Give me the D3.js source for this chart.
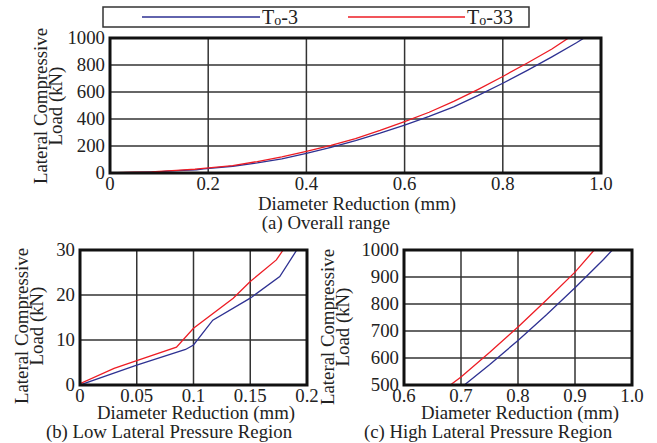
<!DOCTYPE html>
<html lang="en">
<head>
<meta charset="utf-8">
<script src="https://cdn.jsdelivr.net/npm/d3@7"></script>
<style>
  body { margin: 0; background: #fff; }
  svg text { font-family: "Liberation Serif", "Times New Roman", serif; fill: #222; }
</style>
</head>
<body>
<div id="chart"></div>
<script>
// series (diameter reduction mm, load kN)
var seriesNames = ["3", "33"];
var blueX = [0, 0.05, 0.093, 0.1, 0.117, 0.15, 0.176, 0.191, 0.25, 0.3, 0.35, 0.4, 0.45, 0.5, 0.55, 0.6, 0.65, 0.7, 0.75, 0.8, 0.85, 0.9, 0.95, 0.97];
var blueY = [0, 4.4, 7.9, 8.9, 14.4, 19.3, 24.1, 30, 50, 75, 105, 145, 190, 240, 295, 355, 420, 490, 575, 665, 760, 860, 965, 1010];
var redX = [0, 0.03, 0.05, 0.085, 0.1, 0.135, 0.15, 0.173, 0.179, 0.25, 0.3, 0.35, 0.4, 0.45, 0.5, 0.55, 0.6, 0.65, 0.7, 0.75, 0.8, 0.85, 0.9, 0.94];
var redY = [0.3, 3.7, 5.4, 8.4, 12.6, 19.3, 23, 27.8, 30, 55, 85, 120, 160, 205, 255, 315, 380, 450, 530, 620, 715, 815, 918, 1015];

// tick values for each panel
var ticksAX = [0, 0.2, 0.4, 0.6, 0.8, 1.0];
var ticksAY = [0, 200, 400, 600, 800, 1000];
var ticksBX = [0, 0.05, 0.1, 0.15, 0.2];
var ticksBY = [0, 10, 20, 30];
var ticksCX = [0.6, 0.7, 0.8, 0.9, 1.0];
var ticksCY = [500, 600, 700, 800, 900, 1000];

var blue = blueX.map((x, i) => [x, blueY[i]]);
var red = redX.map((x, i) => [x, redY[i]]);

var fs = "18.8px";
var svg = d3.select("#chart").append("svg").attr("width", 657).attr("height", 443);

// legend
var leg = svg.append("g");
leg.append("rect").attr("x", 103).attr("y", 7).attr("width", 426).attr("height", 20)
  .attr("fill", "none").attr("stroke", "#333").attr("stroke-width", 1.5);
function legendItem(x1, x2, color, name) {
  leg.append("line").attr("x1", x1).attr("x2", x2).attr("y1", 17).attr("y2", 17)
    .attr("stroke", color).attr("stroke-width", 1.5);
  var t = leg.append("text").attr("x", x2 + 2).attr("y", 24).style("font-size", "20px");
  t.append("tspan").text("T");
  t.append("tspan").text("o").style("font-size", "14px").attr("dy", 1);
  t.append("tspan").text("-" + name).attr("dy", -1);
}
legendItem(142, 260, "#2e3192", seriesNames[0]);
legendItem(348, 465, "#ed1c24", seriesNames[1]);

function panel(o) {
  var g = svg.append("g");
  var x = d3.scaleLinear().domain(o.xd).range([o.l, o.r]);
  var y = d3.scaleLinear().domain(o.yd).range([o.b, o.t]);
  var id = "clip" + o.key;
  svg.append("clipPath").attr("id", id).append("rect")
    .attr("x", o.l).attr("y", o.t).attr("width", o.r - o.l).attr("height", o.b - o.t);

  // grid
  g.selectAll(".gx").data(o.tx).enter().append("line")
    .attr("x1", d => x(d)).attr("x2", d => x(d)).attr("y1", o.t).attr("y2", o.b)
    .attr("stroke", "#333").attr("stroke-width", 1.5);
  g.selectAll(".gy").data(o.ty).enter().append("line")
    .attr("y1", d => y(d)).attr("y2", d => y(d)).attr("x1", o.l).attr("x2", o.r)
    .attr("stroke", "#333").attr("stroke-width", 1.5);

  var line = d3.line().x(d => x(d[0])).y(d => y(d[1]));
  var lines = g.append("g").attr("clip-path", "url(#" + id + ")");
  lines.append("path").datum(blue).attr("d", line).attr("fill", "none")
    .attr("stroke", "#2e3192").attr("stroke-width", 1.3);
  lines.append("path").datum(red).attr("d", line).attr("fill", "none")
    .attr("stroke", "#ed1c24").attr("stroke-width", 1.3);

  // frame
  g.append("rect").attr("x", o.l).attr("y", o.t).attr("width", o.r - o.l).attr("height", o.b - o.t)
    .attr("fill", "none").attr("stroke", "#111").attr("stroke-width", 3);

  // tick labels
  g.selectAll(".lx").data(o.tx).enter().append("text")
    .attr("x", d => x(d)).attr("y", o.b + 17).attr("text-anchor", "middle")
    .style("font-size", fs).text(o.fx);
  g.selectAll(".ly").data(o.ty).enter().append("text")
    .attr("x", o.l - 5).attr("y", d => y(d) + 6).attr("text-anchor", "end")
    .style("font-size", fs).text(d => d);

  // axis labels
  g.append("text").attr("x", o.xlx).attr("y", o.xly).attr("text-anchor", "middle")
    .style("font-size", fs).text("Diameter Reduction (mm)");
  g.append("text").attr("x", o.capx).attr("y", o.capy).attr("text-anchor", "middle")
    .style("font-size", fs).text(o.cap);
  var yl = g.append("text").attr("transform", "translate(" + o.ylx + "," + o.yly + ") rotate(-90)")
    .attr("text-anchor", "middle").style("font-size", fs);
  yl.append("tspan").attr("x", 0).attr("dy", 0).text("Lateral Compressive");
  yl.append("tspan").attr("x", 0).attr("dy", 15).text("Load (kN)");
}

panel({ key: "a", l: 110, r: 601, t: 38, b: 173, xd: [0, 1], yd: [0, 1000],
  tx: ticksAX, ty: ticksAY, fx: d => d === 0 ? "0" : d3.format(".1f")(d),
  xlx: 357, xly: 210, capx: 326, capy: 229, cap: "(a) Overall range", ylx: 47, yly: 106 });
panel({ key: "b", l: 80, r: 307, t: 250, b: 385, xd: [0, 0.2], yd: [0, 30],
  tx: ticksBX, ty: ticksBY, fx: d => String(d),
  xlx: 196, xly: 419, capx: 169, capy: 438, cap: "(b) Low Lateral Pressure Region", ylx: 28, yly: 326 });
panel({ key: "c", l: 404, r: 632, t: 250, b: 385, xd: [0.6, 1.0], yd: [500, 1000],
  tx: ticksCX, ty: ticksCY, fx: d => d3.format(".1f")(d),
  xlx: 520, xly: 419, capx: 488, capy: 438, cap: "(c) High Lateral Pressure Region", ylx: 334, yly: 327 });
</script>
</body>
</html>
